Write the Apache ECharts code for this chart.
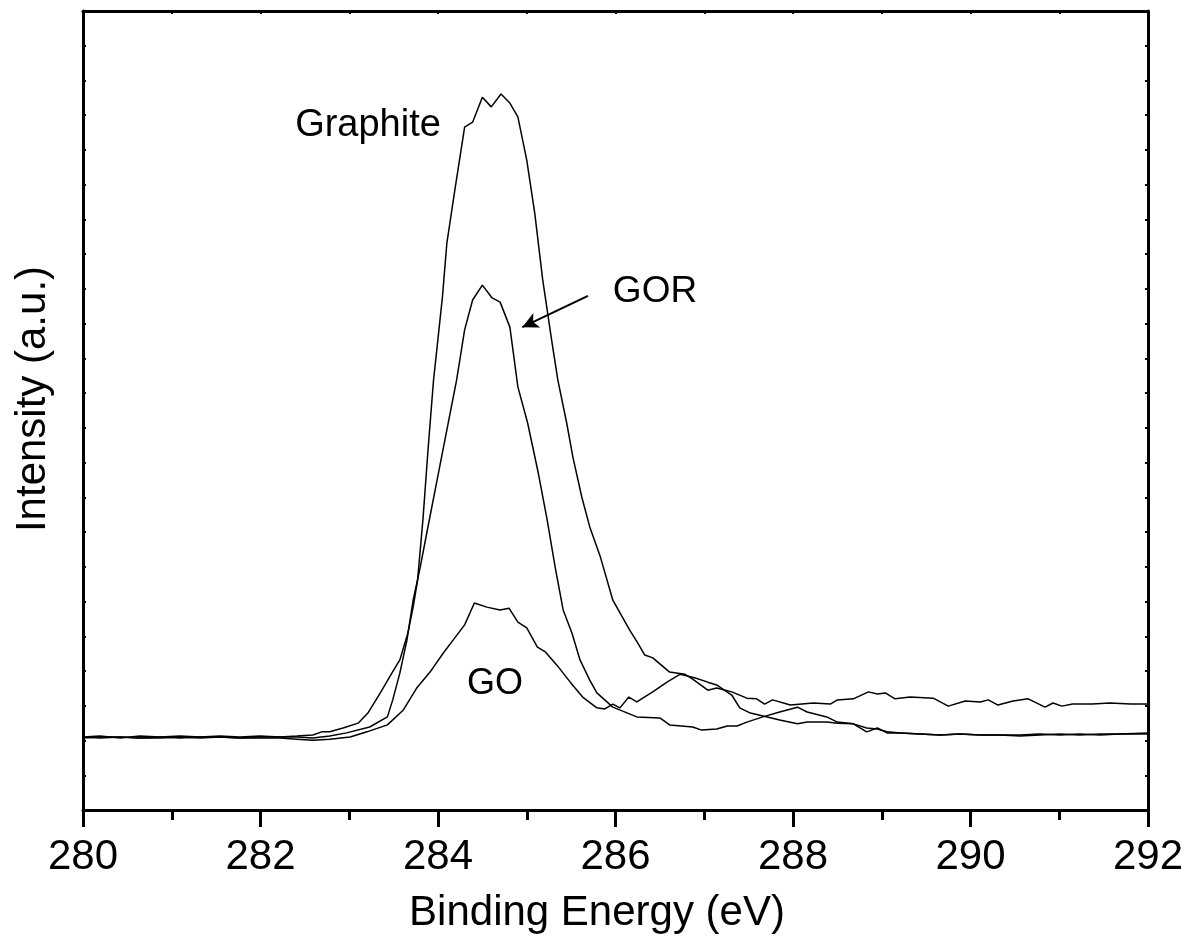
<!DOCTYPE html>
<html>
<head>
<meta charset="utf-8">
<script src="https://cdn.jsdelivr.net/npm/echarts@6/dist/echarts.min.js"></script>
<style>
html,body{margin:0;padding:0;background:#fff;}
#main{width:1192px;height:942px;}
</style>
</head>
<body>
<div id="main"></div>
<script>
// X tick labels (binding energy, eV)
var xTicks = [280, 282, 284, 286, 288, 290, 292];

// Graphite
var graphiteE = [280.00,280.19,280.42,280.64,280.87,281.09,281.32,281.54,281.77,281.99,
  282.22,282.41,282.59,282.69,282.78,282.93,283.10,283.21,283.35,283.48,
  283.57,283.66,283.72,283.77,283.83,283.89,283.95,283.99,284.05,284.10,
  284.19,284.30,284.39,284.50,284.60,284.71,284.81,284.90,285.00,285.09,
  285.18,285.28,285.35,285.45,285.52,285.62,285.71,285.83,285.97,286.16,
  286.25,286.33,286.42,286.61,286.78,286.87,287.04,287.14,287.31,287.48,
  287.59,287.68,287.77,287.97,288.23,288.42,288.50,288.68,288.85,288.95,
  289.04,289.15,289.32,289.58,289.75,289.94,290.11,290.20,290.31,290.48,
  290.65,290.84,290.93,291.03,291.15,291.37,291.57,291.80,292.00];
var graphiteI = [2.10,2.13,2.07,2.13,2.10,2.13,2.10,2.13,2.10,2.13,
  2.10,2.13,2.16,2.25,2.25,2.36,2.50,2.79,3.37,3.94,
  4.32,5.09,5.84,6.62,8.35,10.45,12.38,13.33,14.77,16.32,
  17.85,19.66,19.80,20.52,20.24,20.61,20.35,19.95,18.71,17.18,
  15.26,13.53,12.38,11.14,10.16,9.01,8.15,7.28,6.04,5.18,
  4.81,4.46,4.38,3.97,3.91,3.77,3.45,3.51,3.40,3.22,
  3.20,3.05,3.17,3.02,3.08,3.05,3.17,3.20,3.40,3.34,
  3.37,3.20,3.25,3.22,2.99,3.14,3.11,3.17,3.02,3.14,
  3.20,2.96,3.08,2.99,3.05,3.05,3.08,3.05,3.05];

// GOR
var gorE = [280.00,280.19,280.42,280.64,280.87,281.09,281.32,281.54,281.77,281.99,
  282.22,282.41,282.59,282.78,282.97,283.23,283.43,283.49,283.57,283.65,
  283.72,283.80,283.88,283.99,284.10,284.21,284.30,284.39,284.50,284.61,
  284.70,284.81,284.90,285.01,285.13,285.23,285.32,285.41,285.51,285.60,
  285.71,285.79,285.97,286.24,286.50,286.61,286.87,286.97,287.14,287.26,
  287.37,287.48,287.66,287.85,288.05,288.16,288.38,288.50,288.68,288.83,
  288.95,289.06,289.21,289.43,289.66,289.88,290.11,290.33,290.56,290.78,
  291.01,291.23,291.46,291.68,292.00];
var gorI = [2.07,2.10,2.10,2.07,2.10,2.07,2.10,2.10,2.07,2.10,
  2.10,2.10,2.07,2.13,2.22,2.39,2.68,3.17,3.94,4.89,
  6.04,6.99,8.06,9.50,10.94,12.38,13.82,14.68,15.11,14.74,
  14.62,13.90,12.18,11.14,9.70,8.35,6.99,5.76,5.09,4.32,
  3.74,3.37,2.96,2.68,2.65,2.45,2.39,2.30,2.33,2.42,
  2.42,2.53,2.68,2.82,2.96,2.82,2.68,2.53,2.48,2.36,
  2.33,2.25,2.22,2.19,2.16,2.19,2.16,2.16,2.16,2.19,
  2.16,2.19,2.16,2.19,2.22];

// GO
var goE = [280.00,280.19,280.42,280.64,280.87,281.09,281.32,281.54,281.77,281.99,
  282.22,282.41,282.59,282.78,283.01,283.20,283.43,283.61,283.76,283.91,
  284.06,284.17,284.30,284.41,284.55,284.70,284.80,284.90,285.00,285.12,
  285.21,285.34,285.49,285.63,285.79,285.88,285.97,286.05,286.15,286.24,
  286.42,286.58,286.73,286.90,287.04,287.14,287.31,287.40,287.52,287.71,
  287.85,288.05,288.16,288.38,288.50,288.68,288.83,288.95,289.06,289.21,
  289.43,289.66,289.88,290.11,290.33,290.56,290.78,291.01,291.23,291.46,
  291.68,292.00];
var goI = [2.10,2.07,2.10,2.07,2.07,2.10,2.07,2.10,2.07,2.07,
  2.07,2.04,2.01,2.04,2.10,2.25,2.45,2.88,3.51,3.97,
  4.52,4.89,5.33,5.96,5.84,5.76,5.81,5.41,5.24,4.69,
  4.55,4.17,3.68,3.25,2.94,2.91,3.05,2.94,3.25,3.11,
  3.40,3.68,3.91,3.80,3.68,3.60,3.31,2.94,2.79,2.68,
  2.59,2.48,2.53,2.53,2.50,2.48,2.25,2.36,2.22,2.22,
  2.19,2.16,2.19,2.16,2.16,2.13,2.16,2.19,2.16,2.19,
  2.19,2.19];

// Arrow annotation pointing to GOR (eV, intensity): from tail to head
var arrowFrom = [285.69, 14.80];
var arrowTo = [284.95, 13.90];

function zip(a, b) { return a.map(function (v, i) { return [v, b[i]]; }); }

var FONT = 'Liberation Sans, Arial, sans-serif';
var chart = echarts.init(document.getElementById('main'), null, {renderer: 'canvas'});

function lineSeries(name, E, I) {
  return {
    name: name, type: 'line', data: zip(E, I), showSymbol: false, symbol: 'none',
    lineStyle: {color: '#000', width: 1.5}, animation: false, silent: true
  };
}

var series = [
  lineSeries('Graphite', graphiteE, graphiteI),
  lineSeries('GOR', gorE, gorI),
  lineSeries('GO', goE, goI)
];
series[1].markLine = {
  silent: true, animation: false, symbol: ['none', 'arrow'], symbolSize: [12, 16],
  lineStyle: {color: '#000', width: 2, type: 'solid'}, label: {show: false},
  data: [[{coord: arrowFrom}, {coord: arrowTo}]]
};

var option = {
  backgroundColor: '#fff',
  animation: false,
  grid: {left: 83, right: 44, top: 11, bottom: 132, containLabel: false},
  xAxis: [{
    type: 'value', min: 280, max: 292, interval: 2, position: 'bottom',
    axisLine: {show: true, lineStyle: {color: '#000', width: 3}},
    axisTick: {show: true, inside: false, length: 17, lineStyle: {color: '#000', width: 3}},
    minorTick: {show: true, splitNumber: 2, length: 10, lineStyle: {color: '#000', width: 3}},
    axisLabel: {show: true, color: '#000', fontSize: 42, fontFamily: FONT, margin: 26},
    splitLine: {show: false}
  }, {
    type: 'value', min: 280, max: 292, interval: 1, position: 'top',
    axisLine: {show: true, onZero: false, lineStyle: {color: '#000', width: 3}},
    axisTick: {show: true, inside: true, length: 3, lineStyle: {color: '#000', width: 2}},
    axisLabel: {show: false}, splitLine: {show: false}
  }],
  yAxis: [{
    type: 'value', min: 0, max: 23, interval: 1, position: 'left',
    axisLine: {show: true, onZero: false, lineStyle: {color: '#000', width: 3}},
    axisTick: {show: true, inside: true, length: 3, lineStyle: {color: '#000', width: 2}},
    axisLabel: {show: false}, splitLine: {show: false}
  }, {
    type: 'value', min: 0, max: 23, interval: 1, position: 'right',
    axisLine: {show: true, onZero: false, lineStyle: {color: '#000', width: 3}},
    axisTick: {show: true, inside: true, length: 3, lineStyle: {color: '#000', width: 2}},
    axisLabel: {show: false}, splitLine: {show: false}
  }],
  series: series,
  graphic: [
    {type: 'text', x: 597, y: 913, silent: true,
      style: {text: 'Binding Energy (eV)', fill: '#000', font: '42px ' + FONT, textAlign: 'center', textVerticalAlign: 'middle'}},
    {type: 'text', x: 33, y: 399, rotation: Math.PI / 2, silent: true,
      style: {text: 'Intensity (a.u.)', fill: '#000', font: '42px ' + FONT, textAlign: 'center', textVerticalAlign: 'middle'}},
    {type: 'text', x: 368, y: 126, silent: true,
      style: {text: 'Graphite', fill: '#000', font: '38px ' + FONT, textAlign: 'center', textVerticalAlign: 'middle'}},
    {type: 'text', x: 655, y: 292, silent: true,
      style: {text: 'GOR', fill: '#000', font: '37px ' + FONT, textAlign: 'center', textVerticalAlign: 'middle'}},
    {type: 'text', x: 495, y: 684, silent: true,
      style: {text: 'GO', fill: '#000', font: '36px ' + FONT, textAlign: 'center', textVerticalAlign: 'middle'}}
  ]
};
chart.setOption(option);
</script>
</body>
</html>
